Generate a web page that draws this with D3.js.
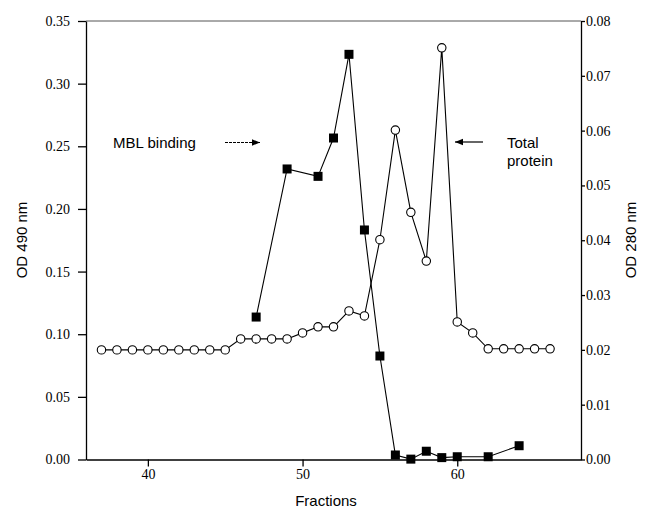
<!DOCTYPE html>
<html><head><meta charset="utf-8">
<script src="https://cdn.jsdelivr.net/npm/d3@7"></script>
<style>body{margin:0;background:#fff}</style>
</head><body>
<svg id="c" width="649" height="509"></svg>
<script>
const proteinFractions = [37,38,39,40,41,42,43,44,45,46,47,48,49,50,51,52,53,54,55,56,57,58,59,60,61,62,63,64,65,66];
const proteinOD280 = [0.020,0.020,0.020,0.020,0.020,0.020,0.020,0.020,0.020,0.022,0.022,0.022,0.022,0.0231,0.0242,0.0242,0.0271,0.0262,0.0401,0.0601,0.0451,0.0362,0.0751,0.0251,0.0231,0.0202,0.0202,0.0202,0.0202,0.0202];
const mblFractions = [47,49,51,52,53,54,55,56,57,58,59,60,62,64];
const mblOD490 = [0.1137,0.2319,0.2260,0.2566,0.3234,0.1832,0.0826,0.0036,0.0003,0.0066,0.0015,0.0022,0.0022,0.0110];
const xTicks = [40,50,60];
const leftTicks = [0,0.05,0.10,0.15,0.20,0.25,0.30,0.35];
const rightTicks = [0,0.01,0.02,0.03,0.04,0.05,0.06,0.07,0.08];

const svg = d3.select("#c");
const L=86, R=581, T=21, B=459.5;
const x = d3.scaleLinear().domain([36,68]).range([L,R]);
const yL = d3.scaleLinear().domain([0,0.35]).range([B,T]);
const yR = d3.scaleLinear().domain([0,0.08]).range([B,T]);
const serif = "'Liberation Serif','Times New Roman',serif";
const sans = "'Liberation Sans',Arial,sans-serif";

// frame
svg.append("line").attr("x1",L).attr("x2",R).attr("y1",T).attr("y2",T).attr("stroke","#555").attr("stroke-width",1);

const gx = svg.append("g").attr("transform",`translate(0,${B})`)
  .call(d3.axisBottom(x).tickValues(xTicks).tickFormat(d3.format("d")).tickSize(7).tickPadding(3).tickSizeOuter(0));
const gl = svg.append("g").attr("transform",`translate(${L},0)`)
  .call(d3.axisLeft(yL).tickValues(leftTicks).tickFormat(d3.format(".2f")).tickSize(8).tickPadding(8).tickSizeOuter(0));
const gr = svg.append("g").attr("transform",`translate(${R},0)`)
  .call(d3.axisRight(yR).tickValues(rightTicks).tickFormat(d3.format(".2f")).tickSize(4).tickPadding(1).tickSizeOuter(0));
[gx,gl,gr].forEach(g=>{
  g.selectAll("text").attr("font-family",serif).attr("font-size",14).attr("fill","#000");
  g.selectAll("line,path").attr("stroke","#000").attr("stroke-width",1.3);
});

const pdata = proteinFractions.map((f,i)=>({f,v:proteinOD280[i]}));
const mdata = mblFractions.map((f,i)=>({f,v:mblOD490[i]}));
svg.append("path").datum(mdata).attr("fill","none").attr("stroke","#000").attr("stroke-width",1.1)
  .attr("d",d3.line().x(d=>x(d.f)).y(d=>yL(d.v)));
svg.append("path").datum(pdata).attr("fill","none").attr("stroke","#000").attr("stroke-width",1.1)
  .attr("d",d3.line().x(d=>x(d.f)).y(d=>yR(d.v)));
svg.selectAll("circle.p").data(pdata).enter().append("circle")
  .attr("cx",d=>x(d.f)).attr("cy",d=>yR(d.v)).attr("r",4.2)
  .attr("fill","#fff").attr("stroke","#000").attr("stroke-width",1.1);
svg.selectAll("rect.m").data(mdata).enter().append("rect")
  .attr("x",d=>x(d.f)-4.5).attr("y",d=>yL(d.v)-4.5).attr("width",9).attr("height",9).attr("fill","#000");

// axis titles
svg.append("text").attr("x",326).attr("y",506).attr("text-anchor","middle").attr("font-family",sans).attr("font-size",15).text("Fractions");
svg.append("text").attr("transform","translate(27,240) rotate(-90)").attr("text-anchor","middle").attr("font-family",sans).attr("font-size",15).text("OD 490 nm");
svg.append("text").attr("transform","translate(636,240) rotate(-90)").attr("text-anchor","middle").attr("font-family",sans).attr("font-size",15).text("OD 280 nm");

// annotations
svg.append("defs").append("marker").attr("id","ah").attr("viewBox","0 0 10 10").attr("refX",10).attr("refY",5)
  .attr("markerWidth",8).attr("markerHeight",8).attr("markerUnits","userSpaceOnUse").attr("orient","auto")
  .append("path").attr("d","M0,1 L10,5 L0,9 Z").attr("fill","#000");
svg.append("text").attr("x",113).attr("y",148).attr("font-family",sans).attr("font-size",15).text("MBL binding");
svg.append("line").attr("x1",225).attr("x2",260).attr("y1",142.5).attr("y2",142.5).attr("stroke","#000").attr("stroke-width",1).attr("stroke-dasharray","3,1").attr("marker-end","url(#ah)");
svg.append("line").attr("x1",483).attr("x2",455).attr("y1",142).attr("y2",142).attr("stroke","#000").attr("stroke-width",1.2).attr("marker-end","url(#ah)");
svg.append("text").attr("x",507).attr("y",148).attr("font-family",sans).attr("font-size",15).text("Total");
svg.append("text").attr("x",507).attr("y",166).attr("font-family",sans).attr("font-size",15).text("protein");
</script>
</body></html>
